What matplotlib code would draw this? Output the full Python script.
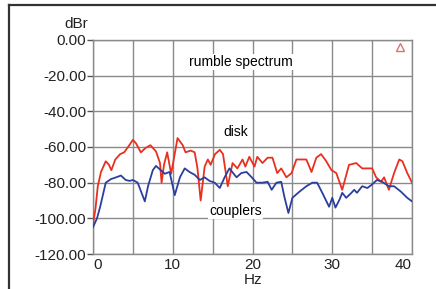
import numpy as np
import matplotlib
matplotlib.use("Agg")
import matplotlib.pyplot as plt
from matplotlib.lines import Line2D

plt.rcParams['font.family'] = ['Liberation Sans', 'DejaVu Sans']

# disk rumble (red)
disk_hz = [0, 0.3, 0.6, 1.0, 1.6, 2.0, 2.3, 2.8, 3.4, 3.9, 4.4, 5.0, 5.4, 6.0, 6.6,
           7.2, 7.9, 8.4, 8.6, 8.9, 9.3, 9.8, 10.6, 11.25, 11.6, 12.25, 12.75, 13.1,
           13.5, 14.0, 14.4, 14.75, 15.3, 15.9, 16.3, 16.9, 17.5, 18.1, 18.75, 19.1,
           19.6, 20.25, 20.6, 21.25, 21.9, 22.5, 23.1, 23.6, 24.25, 24.9, 25.5, 26.75,
           27.4, 28.0, 28.6, 29.25, 29.9, 30.5, 31.25, 32.1, 33.0, 33.75, 34.4, 35.0,
           35.5, 36.1, 36.5, 37.1, 37.75, 38.4, 38.8, 39.4, 40.0]
disk_db = [-103, -95, -82, -74, -68, -70, -73, -67, -64, -63, -60, -56, -58, -63, -60.5,
           -59, -62.5, -69, -80, -70, -63, -75, -55, -59, -63, -62, -63, -72,
           -90, -71, -67, -70, -64, -61.6, -64, -82, -69, -72, -67, -71,
           -65.5, -71, -65.5, -69, -66, -66, -74.6, -72, -77, -74.6, -67, -67,
           -74, -66, -64, -68, -73, -74.6, -84, -70, -69, -72, -72, -72,
           -77, -79.5, -77, -84, -74.6, -67, -68, -74.6, -80]

# couplers rumble (blue)
coup_hz = [0, 0.5, 0.9, 1.6, 2.25, 2.9, 3.5, 4.1, 4.6, 5.0, 5.6, 6.5, 6.9, 7.5, 7.9,
           8.5, 9.0, 9.6, 10.25, 10.9, 11.5, 12.1, 12.75, 13.4, 14.0, 14.6, 15.25,
           15.9, 16.5, 17.1, 18.0, 18.6, 19.25, 19.9, 20.5, 21.25, 21.9, 22.4, 23.0,
           23.6, 24.0, 24.5, 25.0, 25.9, 26.75, 27.5, 28.1, 28.75, 29.6, 30.0, 30.4,
           30.9, 31.25, 31.75, 32.4, 32.75, 33.1, 33.75, 34.4, 35.0, 35.6, 36.25,
           37.1, 37.75, 38.6, 39.4, 40.0]
coup_db = [-105, -100, -93.5, -80, -78, -77, -76, -78.5, -79, -78.5, -80, -90.5, -82, -73, -70.6,
           -73, -75, -74, -87, -77, -72, -74, -75.6, -78.5, -77, -79, -80,
           -83, -77, -72, -77, -74.6, -74, -77, -80, -80, -79.5, -84, -80,
           -79.5, -88, -97, -88.5, -85, -82, -80, -80, -85.7, -93.5, -88.5, -94,
           -89.6, -85.7, -88.5, -85.7, -84, -85.7, -82, -83, -81, -78.5, -79.5,
           -82, -82, -85, -88.5, -90.5]

yticks = [0, -20, -40, -60, -80, -100, -120]
xticks = [0, 10, 20, 30, 40]

fig = plt.figure(figsize=(4.36, 2.89), dpi=100)
ax = fig.add_axes([0.2133, 0.1211, 0.7317, 0.7405])

ax.plot(disk_hz, disk_db, color='#e8301f', lw=1.3, zorder=3)
ax.plot(coup_hz, coup_db, color='#2b3f9e', lw=1.3, zorder=3)

ax.set_xlim(0, 40)
ax.set_ylim(-120, 0)
ax.set_xticks(np.arange(0, 41, 5))
ax.set_xticklabels([str(v) if v in xticks else '' for v in range(0, 41, 5)])
labs = ax.get_xticklabels()
labs[0].set_horizontalalignment('left')
labs[-1].set_horizontalalignment('right')
ax.set_yticks(yticks)
ax.set_yticklabels(['%.2f' % v for v in yticks])
ax.grid(True, color='#8a8a8a', lw=1.0)
ax.set_axisbelow(True)
ax.tick_params(axis='y', length=4, width=1, color='#555555', labelsize=11, labelcolor='#222222', pad=1)
ax.tick_params(axis='x', length=0, labelsize=11, labelcolor='#222222', pad=3)
for s in ax.spines.values():
    s.set_color('#8a8a8a')
    s.set_linewidth(1.0)

fig.text(253 / 436, 1 - 280 / 289, 'Hz', ha='center', va='center', fontsize=11, color='#222222')
fig.text(88 / 436, 1 - 24 / 289, 'dBr', ha='right', va='center', fontsize=11, color='#222222')

box = dict(facecolor='white', edgecolor='none', pad=1)
ax.text(18.6, -12.3, 'rumble spectrum', ha='center', va='center', fontsize=10, bbox=box, zorder=4)
ax.text(17.9, -51.5, 'disk', ha='center', va='center', fontsize=10, bbox=box, zorder=4)
ax.text(17.9, -95.8, 'couplers', ha='center', va='center', fontsize=10, bbox=box, zorder=4)
ax.plot([38.5], [-4], marker='^', ms=6, mfc='none', mec='#e07070', mew=1, zorder=4)

# outer frame of the original figure
fig.add_artist(Line2D([9 / 436, 1.0], [1 - 5 / 289, 1 - 5 / 289], color='#333333', lw=1.6))
fig.add_artist(Line2D([9 / 436, 9 / 436], [0.0, 1 - 5 / 289], color='#333333', lw=1.6))

fig.savefig('out.png', dpi=100)
